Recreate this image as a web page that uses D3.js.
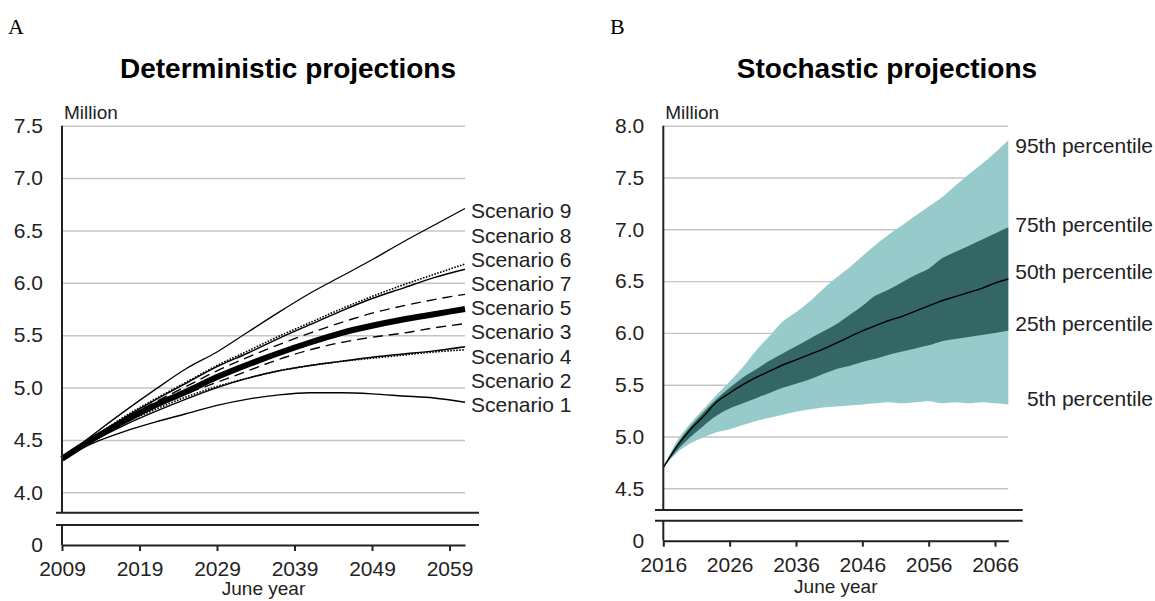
<!DOCTYPE html>
<html><head><meta charset="utf-8">
<script src="https://cdn.jsdelivr.net/npm/d3@7/dist/d3.min.js"></script>
<style>
body{margin:0;background:#fff}
svg{display:block}
text{font-family:"Liberation Sans",Arial,sans-serif;fill:#222}
text.serif{font-family:"Liberation Serif","Times New Roman",serif;fill:#000}
</style>
</head><body>
<svg id="c" width="1155" height="601"></svg>
<script>
// ---------- Panel A data: deterministic projections (million) ----------
const yearsA = [2009,2013,2017,2021,2025,2029,2033,2037,2041,2045,2049,2053,2057,2061];
const scenario1 = [4.32,4.47,4.58,4.67,4.75,4.83,4.89,4.93,4.95,4.95,4.94,4.92,4.90,4.86];
const scenario2 = [4.32,4.50,4.66,4.79,4.91,5.01,5.09,5.16,5.21,5.25,5.28,5.31,5.34,5.36];
const scenario3 = [4.32,4.50,4.67,4.81,4.94,5.05,5.16,5.27,5.36,5.43,5.48,5.52,5.57,5.61];
const scenario4 = [4.32,4.49,4.64,4.77,4.89,5.00,5.09,5.16,5.21,5.25,5.29,5.32,5.35,5.39];
const scenario5 = [4.32,4.51,4.68,4.83,4.96,5.10,5.22,5.33,5.43,5.52,5.59,5.65,5.70,5.75];
const scenario6 = [4.32,4.52,4.72,4.89,5.05,5.21,5.35,5.49,5.62,5.75,5.87,5.98,6.08,6.18];
const scenario7 = [4.32,4.52,4.70,4.86,5.01,5.16,5.29,5.41,5.52,5.62,5.71,5.78,5.84,5.89];
const scenario8 = [4.32,4.52,4.71,4.88,5.04,5.20,5.33,5.47,5.60,5.73,5.85,5.95,6.05,6.13];
const scenario9 = [4.32,4.55,4.77,4.98,5.18,5.34,5.53,5.72,5.90,6.06,6.22,6.39,6.55,6.71];
const scenarioLabels = ["Scenario 9","Scenario 8","Scenario 6","Scenario 7","Scenario 5","Scenario 3","Scenario 4","Scenario 2","Scenario 1"];
const yTicksA = [4.0,4.5,5.0,5.5,6.0,6.5,7.0,7.5];
const xTicksA = [2009,2019,2029,2039,2049,2059];

// ---------- Panel B data: stochastic projections (million) ----------
const yearsB = [2016,2018,2020,2022,2024,2026,2028,2030,2032,2034,2036,2038,2040,2042,2044,2046,2048,2050,2052,2054,2056,2058,2060,2062,2064,2066,2068];
const p5  = [4.70,4.84,4.93,4.99,5.04,5.07,5.11,5.15,5.18,5.21,5.24,5.26,5.28,5.29,5.30,5.31,5.32,5.33,5.32,5.33,5.34,5.32,5.33,5.32,5.33,5.32,5.31];
const p25 = [4.70,4.86,4.99,5.10,5.20,5.27,5.32,5.37,5.42,5.47,5.51,5.55,5.60,5.65,5.68,5.72,5.75,5.79,5.82,5.85,5.88,5.92,5.94,5.96,5.98,6.00,6.02];
const p50 = [4.70,4.90,5.06,5.19,5.33,5.42,5.50,5.57,5.63,5.69,5.74,5.79,5.84,5.90,5.96,6.02,6.07,6.12,6.16,6.21,6.26,6.31,6.35,6.39,6.43,6.48,6.52];
const p75 = [4.70,4.92,5.09,5.23,5.36,5.47,5.57,5.65,5.73,5.80,5.87,5.94,6.01,6.08,6.17,6.26,6.36,6.42,6.49,6.56,6.62,6.72,6.78,6.84,6.90,6.96,7.02];
const p95 = [4.70,4.95,5.12,5.26,5.40,5.53,5.67,5.83,5.97,6.11,6.20,6.30,6.42,6.53,6.63,6.74,6.85,6.95,7.04,7.13,7.22,7.31,7.42,7.53,7.63,7.74,7.86];
const percentileLabels = ["95th percentile","75th percentile","50th percentile","25th percentile","5th percentile"];
const yTicksB = [4.5,5.0,5.5,6.0,6.5,7.0,7.5,8.0];
const xTicksB = [2016,2026,2036,2046,2056,2066];

const svg = d3.select("#c");
const GRID = "#c4c4c4", AXIS = "#222";
const fmt = d3.format(".1f");

function frame(g, x, y, yTicks) {
  const x0 = x.range()[0], x1 = x.range()[1];
  const ya = d3.axisLeft(y).tickValues(yTicks).tickFormat(fmt).tickSize(-(x1 - x0)).tickPadding(19);
  const gy = g.append("g").attr("transform", `translate(${x0},0)`).call(ya);
  gy.select(".domain").remove();
  gy.selectAll(".tick line").attr("stroke", GRID).attr("stroke-width", 1.4);
  gy.selectAll(".tick text").attr("font-size", 21).attr("fill", "#222")
    .attr("font-family", '"Liberation Sans",Arial,sans-serif');
}

function axes(g, x, y, yTicks, xTicks, breakTop, breakBot, zeroY, breakL, breakR, titleY) {
  const x0 = x.range()[0];
  const yTop = y(d3.max(yTicks));
  g.append("line").attr("x1", x0).attr("x2", x0).attr("y1", yTop).attr("y2", breakTop)
    .attr("stroke", AXIS).attr("stroke-width", 2);
  g.append("line").attr("x1", x0).attr("x2", x0).attr("y1", breakBot).attr("y2", zeroY)
    .attr("stroke", AXIS).attr("stroke-width", 2);
  [breakTop, breakBot].forEach(v => g.append("line").attr("x1", breakL).attr("x2", breakR)
    .attr("y1", v).attr("y2", v).attr("stroke", AXIS).attr("stroke-width", 2));
  g.append("text").attr("x", x0 - 19).attr("y", zeroY).attr("dy", "0.35em")
    .attr("text-anchor", "end").attr("font-size", 21).text("0");
  const xa = d3.axisBottom(x).tickValues(xTicks).tickFormat(d3.format("d")).tickSize(6).tickSizeOuter(0).tickPadding(10);
  const gx = g.append("g").attr("transform", `translate(0,${zeroY})`).call(xa);
  gx.select(".domain").attr("stroke", AXIS).attr("stroke-width", 2);
  gx.selectAll(".tick line").attr("stroke", AXIS).attr("stroke-width", 2);
  gx.selectAll(".tick text").attr("font-size", 21).attr("fill", "#222")
    .attr("font-family", '"Liberation Sans",Arial,sans-serif');
  g.append("text").attr("x", (x.range()[0] + x.range()[1]) / 2).attr("y", titleY)
    .attr("text-anchor", "middle").attr("font-size", 19).text("June year");
  g.append("text").attr("x", x0 + 2).attr("y", yTop - 7).attr("font-size", 19).attr("fill", "#333").text("Million");
}

// ---------------- Panel A ----------------
const gA = svg.append("g");
const xA = d3.scaleLinear().domain([2009, 2061]).range([62, 465]);
const yA = d3.scaleLinear().domain([4, 7.5]).range([492.3, 125.7]);
frame(gA, xA, yA, yTicksA);

const scenarios = [
  {name: "Scenario 1", v: scenario1, w: 1.4, dash: null},
  {name: "Scenario 2", v: scenario2, w: 1.6, dash: "1.6,1.4"},
  {name: "Scenario 4", v: scenario4, w: 1.4, dash: null},
  {name: "Scenario 3", v: scenario3, w: 1.4, dash: "10,6"},
  {name: "Scenario 7", v: scenario7, w: 1.4, dash: "10,6"},
  {name: "Scenario 8", v: scenario8, w: 1.4, dash: null},
  {name: "Scenario 6", v: scenario6, w: 1.6, dash: "1.6,1.4"},
  {name: "Scenario 9", v: scenario9, w: 1.3, dash: null},
  {name: "Scenario 5", v: scenario5, w: 6, dash: null}
];
const lineA = d3.line().x((d, i) => xA(yearsA[i])).y(d => yA(d)).curve(d3.curveMonotoneX);
gA.append("g").selectAll("path").data(scenarios).join("path")
  .attr("d", d => lineA(d.v)).attr("fill", "none").attr("stroke", "#000")
  .attr("stroke-width", d => d.w).attr("stroke-dasharray", d => d.dash);

const endVals = scenarios.map(s => s.v[s.v.length - 1]);
const topY = yA(d3.max(endVals)), botY = yA(d3.min(endVals));
scenarioLabels.forEach((t, i) => {
  const yy = topY + (botY - topY) * i / (scenarioLabels.length - 1) + 2.5;
  gA.append("text").attr("x", 471).attr("y", yy).attr("dy", "0.35em").attr("font-size", 21).text(t);
});
axes(gA, xA, yA, yTicksA, xTicksA, 512.7, 525, 545, 56, 479, 595);

gA.append("text").attr("x", 288).attr("y", 78).attr("text-anchor", "middle")
  .attr("font-size", 28).attr("font-weight", "bold").style("fill", "#000").text("Deterministic projections");
svg.append("text").attr("class", "serif").attr("x", 8).attr("y", 34).attr("font-size", 22).text("A");

// ---------------- Panel B ----------------
const gB = svg.append("g");
const xB = d3.scaleLinear().domain([2016, 2068]).range([663.3, 1008.3]);
const yB = d3.scaleLinear().domain([4.5, 8]).range([488.3, 125.7]);
frame(gB, xB, yB, yTicksB);

const rowsB = yearsB.map((yr, i) => ({yr, p5: p5[i], p25: p25[i], p50: p50[i], p75: p75[i], p95: p95[i]}));
gB.append("path").datum(rowsB).attr("fill", "#97cbcb")
  .attr("d", d3.area().x(d => xB(d.yr)).y0(d => yB(d.p5)).y1(d => yB(d.p95)).curve(d3.curveMonotoneX));
gB.append("path").datum(rowsB).attr("fill", "#336665")
  .attr("d", d3.area().x(d => xB(d.yr)).y0(d => yB(d.p25)).y1(d => yB(d.p75)).curve(d3.curveMonotoneX));
gB.append("path").datum(rowsB).attr("fill", "none").attr("stroke", "#000").attr("stroke-width", 1.4)
  .attr("d", d3.line().x(d => xB(d.yr)).y(d => yB(d.p50)).curve(d3.curveMonotoneX));

const lastB = rowsB[rowsB.length - 1];
const pctEnds = [lastB.p95, lastB.p75, lastB.p50, lastB.p25, lastB.p5];
const pctNudge = [5, -3, -7, -7, -6];
percentileLabels.forEach((t, i) => {
  gB.append("text").attr("x", 1153).attr("y", yB(pctEnds[i]) + pctNudge[i]).attr("dy", "0.35em")
    .attr("text-anchor", "end").attr("font-size", 21).text(t);
});
axes(gB, xB, yB, yTicksB, xTicksB, 510, 520.7, 540.7, 655, 1022.7, 593);

gB.append("text").attr("x", 887).attr("y", 78).attr("text-anchor", "middle")
  .attr("font-size", 28).attr("font-weight", "bold").style("fill", "#000").text("Stochastic projections");
svg.append("text").attr("class", "serif").attr("x", 610).attr("y", 34).attr("font-size", 22).text("B");
</script>
</body></html>
